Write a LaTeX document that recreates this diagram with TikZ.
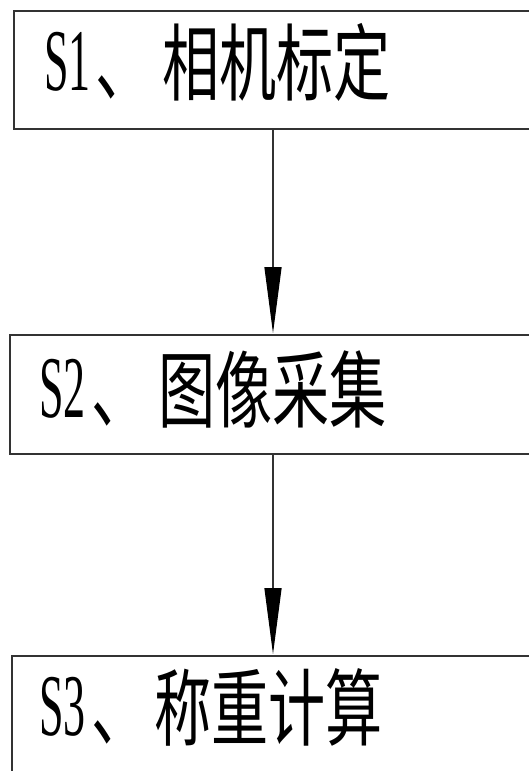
\documentclass[tikz,border=0pt]{standalone}
\usepackage{fontspec}
\setmainfont{Liberation Serif}
\newfontfamily\cjk{Noto Sans CJK SC}
\usetikzlibrary{arrows.meta}
\tikzset{
  box/.style={draw=black!80, line width=1.8pt, inner sep=0pt, anchor=north west, minimum width=560pt},
  arr/.style={draw=black!80, line width=1.3pt, -{Triangle[length=66pt,width=17pt,fill=black,color=black]}, shorten >=0.9pt},
  lat/.style={inner sep=0pt, anchor=base west, font=\fontsize{88}{88}\selectfont},
  han/.style={inner sep=0pt, anchor=base west, font=\cjk\fontsize{84}{84}\selectfont},
}
\newcommand{\nrw}[2]{\scalebox{#1}[1]{#2}}
\begin{document}
\begin{tikzpicture}[x=1pt,y=-1pt]
\useasboundingbox (0,0) rectangle (529,771);
\clip (0,0) rectangle (529,771);
\fill[white] (0,0) rectangle (529,771);
\node[box, minimum height=118pt] (b1) at (13,10) {};
\node[box, minimum height=119pt] (b2) at (9,334) {};
\node[box, minimum height=160pt] (b3) at (11,655) {};
\coordinate (ax) at (273,0);
\draw[arr] (ax |- b1.south) -- (ax |- b2.north);
\draw[arr] (ax |- b2.south) -- (ax |- b3.north);
\node[lat] (s1) at (44,90) {\nrw{0.5}{S1}};
\node[han] (c1) at (95,94) {\nrw{0.68}{、\hspace{15pt}相机标定}};
\node[lat] (s2) at (39,417) {\nrw{0.5}{S2}};
\node[han] (c2) at (91,421) {\nrw{0.68}{、\hspace{15pt}图像采集}};
\node[lat] (s3) at (39,735) {\nrw{0.5}{S3}};
\node[han] (c3) at (91,739) {\nrw{0.68}{、\hspace{9pt}称重计算}};
\end{tikzpicture}
\end{document}
